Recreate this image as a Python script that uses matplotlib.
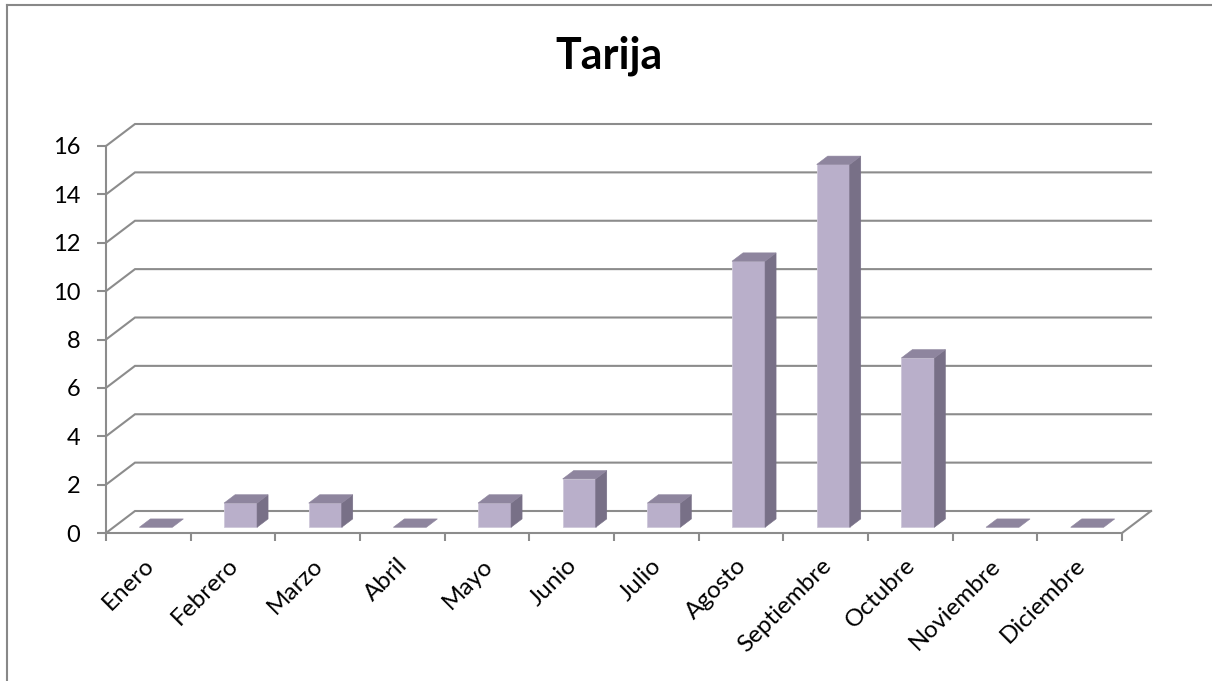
import matplotlib
matplotlib.use("Agg")
import matplotlib.pyplot as plt
from matplotlib.patches import Polygon
from matplotlib.lines import Line2D
import matplotlib.transforms as mtransforms

plt.rcParams["font.family"] = ["Lato", "DejaVu Sans"]

# Data
title = "Tarija"
months = ["Enero", "Febrero", "Marzo", "Abril", "Mayo", "Junio", "Julio",
          "Agosto", "Septiembre", "Octubre", "Noviembre", "Diciembre"]
cases = [0, 1, 1, 0, 1, 2, 1, 11, 15, 7, 0, 0]
y_ticks = [0, 2, 4, 6, 8, 10, 12, 14, 16]

# Styling
GRID = "#8C8C8C"
FRONT = "#B9AFCA"
TOP = "#8E859E"
SIDE = "#787087"
LW = 1.5

W, H = 1212, 681
fig = plt.figure(figsize=(W / 100, H / 100), dpi=100)

# front plane of the 3D box, in pixels
x0, x1 = 106, 1122
yb, yt = 533, 146
ax = fig.add_axes([x0 / W, 1 - yb / H, (x1 - x0) / W, (yb - yt) / H])
n = len(months)
ax.set_xlim(-0.5, n - 0.5)
ax.set_ylim(y_ticks[0], y_ticks[-1])

px_cat = (x1 - x0) / n
px_val = (yb - yt) / (y_ticks[-1] - y_ticks[0])
DX = 29 / px_cat   # depth offset in data units
DY = 22 / px_val


def proj(x, y, t):
    return (x + t * DX, y + t * DY)


# back wall / floor gridlines with the diagonal side-wall part
for v in y_ticks:
    ax.add_line(Line2D([-0.5, -0.5 + DX, n - 0.5 + DX], [v, v + DY, v + DY],
                       color=GRID, lw=LW, clip_on=False, zorder=1,
                       solid_joinstyle="miter"))
ax.add_line(Line2D([n - 0.5, n - 0.5 + DX], [0, DY], color=GRID, lw=LW,
                   clip_on=False, zorder=1))

# 3D columns
BW = 0.39
T0, T1 = 0.26, 0.64
for i, v in enumerate(cases):
    xl, xr = i - BW / 2, i + BW / 2
    top = [proj(xl, v, T0), proj(xr, v, T0), proj(xr, v, T1), proj(xl, v, T1)]
    if v > 0:
        front = [proj(xl, 0, T0), proj(xr, 0, T0), proj(xr, v, T0), proj(xl, v, T0)]
        side = [proj(xr, 0, T0), proj(xr, 0, T1), proj(xr, v, T1), proj(xr, v, T0)]
        ax.add_patch(Polygon(front, closed=True, facecolor=FRONT,
                             edgecolor="#CFC8DA", lw=0.6, clip_on=False, zorder=3))
        ax.add_patch(Polygon(side, closed=True, facecolor=SIDE,
                             edgecolor=SIDE, lw=0.4, clip_on=False, zorder=3))
    ax.add_patch(Polygon(top, closed=True, facecolor=TOP,
                         edgecolor=TOP, lw=0.4, clip_on=False, zorder=3))

# axes lines and ticks
for s in ("top", "right"):
    ax.spines[s].set_visible(False)
for s in ("left", "bottom"):
    ax.spines[s].set_color(GRID)
    ax.spines[s].set_linewidth(LW)
    ax.spines[s].set_zorder(2)

ax.set_yticks(y_ticks)
ax.set_yticklabels([str(v) for v in y_ticks], fontsize=17)
ax.tick_params(axis="y", direction="out", length=6.5, width=LW, color=GRID,
               pad=12)

ax.set_xticks(range(n))
ax.set_xticks([k - 0.5 for k in range(n + 1)], minor=True)
ax.tick_params(axis="x", which="major", length=0, pad=21)
ax.tick_params(axis="x", which="minor", direction="out", length=5.8,
               width=LW, color=GRID)
ax.set_xticklabels(months, fontsize=17.5, rotation=45, ha="right",
                   va="center", rotation_mode="anchor")
shift = mtransforms.ScaledTranslation(2 / 100, 0, fig.dpi_scale_trans)
for lab in ax.get_xticklabels():
    lab.set_transform(lab.get_transform() + shift)

ax.patch.set_visible(False)

# chart title
fig.text(609 / W, 1 - 69 / H, title, ha="center", va="baseline",
         fontsize=31, fontweight="bold")

# chart area border
fig.add_artist(Line2D([7 / W, 7 / W], [0, 1 - 5 / H], color="#888888",
                      lw=1.5, transform=fig.transFigure))
fig.add_artist(Line2D([7 / W, 1], [1 - 5 / H, 1 - 5 / H], color="#888888",
                      lw=1.5, transform=fig.transFigure))

fig.savefig("out.png", dpi=100)
